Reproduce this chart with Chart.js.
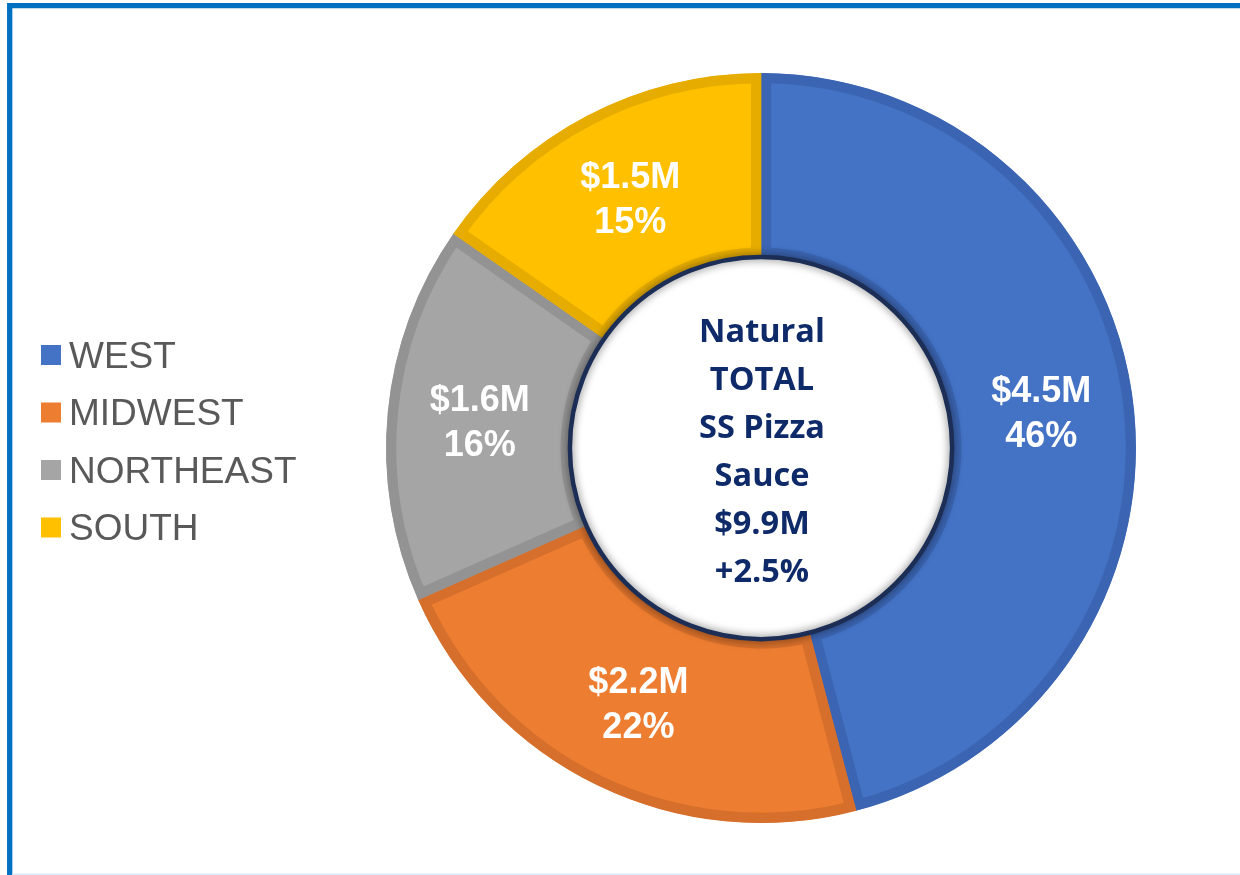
<!DOCTYPE html>
<html>
<head>
<meta charset="utf-8">
<script src="https://cdn.jsdelivr.net/npm/chart.js@4"></script>
<style>
  html, body { margin: 0; padding: 0; background: #ffffff; }
  #wrap { width: 1240px; height: 875px; }
</style>
</head>
<body>
<div id="wrap"><canvas id="regionChart" width="1240" height="875"></canvas></div>
<script>
// regional sales, $M
const regions = ['WEST', 'MIDWEST', 'NORTHEAST', 'SOUTH'];
const sales = [4.5, 2.2, 1.6, 1.5];
const fillColors = ['#4472C4', '#ED7D31', '#A5A5A5', '#FFC000'];
const edgeColors = ['#3B65B2', '#D66F2B', '#939393', '#E6AC00'];
const centerLines = ['Natural', 'TOTAL', 'SS Pizza', 'Sauce', '$9.9M', '+2.5%'];

// blue frame around the slide
const framePlugin = {
  id: 'frame',
  beforeDraw(chart) {
    const ctx = chart.ctx;
    ctx.save();
    ctx.strokeStyle = '#0070C0';
    ctx.lineWidth = 5.3;
    ctx.beginPath();
    ctx.moveTo(9.7, 900);
    ctx.lineTo(9.7, 5.7);
    ctx.lineTo(1250, 5.7);
    ctx.stroke();
    ctx.fillStyle = '#DAE9F7';
    ctx.fillRect(12, 873.5, 1240, 1.5);
    ctx.restore();
  }
};

// legend on the left, drawn from the chart's labels and colors
const sideLegend = {
  id: 'sideLegend',
  afterDraw(chart) {
    const ctx = chart.ctx;
    const ds = chart.data.datasets[0];
    ctx.save();
    ctx.font = '37px "Liberation Sans", Arial, sans-serif';
    ctx.textBaseline = 'alphabetic';
    ctx.textAlign = 'left';
    chart.data.labels.forEach((lbl, i) => {
      const base = 367.5 + i * 57.5;
      ctx.fillStyle = ds.backgroundColor[i];
      ctx.fillRect(41, base - 22.5, 20, 20);
      ctx.fillStyle = '#595959';
      ctx.fillText(lbl, 69, base);
    });
    ctx.restore();
  }
};

// white hub with navy ring, slice labels and the total in the middle
const hubPlugin = {
  id: 'hub',
  afterDatasetsDraw(chart) {
    const ctx = chart.ctx;
    const meta = chart.getDatasetMeta(0);
    const arc0 = meta.data[0];
    const cx = arc0.x, cy = arc0.y;
    const r = arc0.innerRadius + 1;

    ctx.save();
    ctx.beginPath();
    ctx.arc(cx, cy, r, 0, Math.PI * 2);
    ctx.fillStyle = '#ffffff';
    ctx.fill();
    ctx.shadowColor = 'rgba(0,0,0,0.6)';
    ctx.shadowBlur = 9;
    ctx.strokeStyle = '#1C2E55';
    ctx.lineWidth = 4.5;
    ctx.stroke();
    ctx.restore();

    const data = chart.data.datasets[0].data;
    const total = data.reduce((a, b) => a + b, 0);
    ctx.save();
    ctx.fillStyle = '#ffffff';
    ctx.font = 'bold 36px "Liberation Sans", Arial, sans-serif';
    ctx.textAlign = 'center';
    ctx.textBaseline = 'alphabetic';
    meta.data.forEach((arc, i) => {
      const p = arc.getCenterPoint();
      const v = data[i];
      ctx.fillText('$' + v.toFixed(1) + 'M', p.x, p.y - 22.5 + 13);
      ctx.fillText(Math.round(v / total * 100) + '%', p.x, p.y + 22.5 + 13);
    });

    ctx.fillStyle = '#0F2A69';
    ctx.font = 'bold 32.5px "Open Sans", sans-serif';
    centerLines.forEach((line, i) => {
      ctx.fillText(line, cx + 1, cy + 2 + (i - 2.5) * 48 + 11.5);
    });
    ctx.restore();
  }
};

new Chart(document.getElementById('regionChart').getContext('2d'), {
  type: 'doughnut',
  data: {
    labels: regions,
    datasets: [{
      data: sales,
      backgroundColor: fillColors,
      borderColor: edgeColors,
      borderWidth: 10,
      borderAlign: 'inner',
      hoverOffset: 0
    }]
  },
  options: {
    responsive: false,
    animation: false,
    events: [],
    cutout: '50.7%',
    layout: { padding: { left: 282, right: 0, top: 73, bottom: 52 } },
    plugins: {
      legend: { display: false },
      tooltip: { enabled: false }
    }
  },
  plugins: [framePlugin, hubPlugin, sideLegend]
});
</script>
</body>
</html>
